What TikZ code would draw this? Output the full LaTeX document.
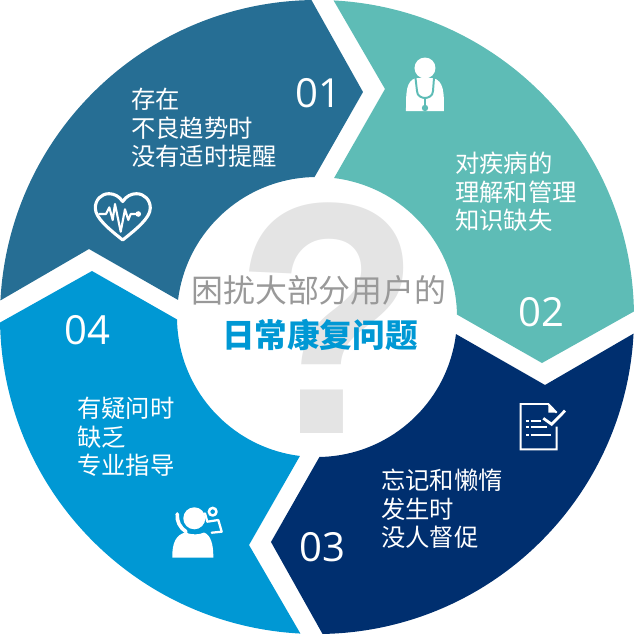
\documentclass[tikz,border=0pt]{standalone}
\usepackage{fontspec}
\usepackage{xcolor}
\setmainfont{Open Sans}
\newfontfamily\cjk{Noto Sans CJK SC}
\newfontfamily\markfont{Liberation Sans}
\definecolor{segone}{HTML}{266E94}
\definecolor{segtwo}{HTML}{5EBCB6}
\definecolor{segthree}{HTML}{002F6F}
\definecolor{segfour}{HTML}{0098D4}
\definecolor{qmark}{HTML}{E4E4E4}
\definecolor{leadgray}{HTML}{999999}
\tikzset{
  seglabel/.style={anchor=west, inner sep=0, align=left, text=white, font=\cjk\fontsize{17.3}{20.3}\selectfont},
  segnum/.style={inner sep=0, text=white, font=\fontsize{28.5}{32}\selectfont},
  icon/.style={white, line cap=round, line join=round}
}

\begin{document}
\begin{tikzpicture}[x=0.025cm, y=0.025cm]
  \useasboundingbox (-317,-317) rectangle (317,317);

  % Ring
  \foreach \rot/\segcolor in {0/segone, -90/segtwo, -180/segthree, -270/segfour}
    \fill[\segcolor, rotate=\rot] (91:317) arc[start angle=91, end angle=177, radius=317] -- (-228,68) -- (173:140) arc[start angle=173, end angle=91, radius=140] -- (46,225) -- cycle;

  % Centre
  \node[inner sep=0, text=qmark, font=\markfont\bfseries\fontsize{235}{235}\selectfont] (mark) at (11,-1.5) {\scalebox{0.92}[1]{?}};
  \node[inner sep=0, text=leadgray, font=\cjk\fontsize{22.7}{26}\selectfont] (lead) at (2,27) {困扰大部分用户的};
  \node[inner sep=0, text=segfour, font=\cjk\bfseries\fontsize{23.2}{26}\selectfont] (topic) at (3,-18) {日常康复问题};

  % Labels
  \node[seglabel] (label one) at (-186,189) {存在\\不良趋势时\\没有适时提醒};
  \node[seglabel] (label two) at (138,125) {对疾病的\\理解和管理\\知识缺失};
  \node[seglabel] (label three) at (64,-192) {忘记和懒惰\\发生时\\没人督促};
  \node[seglabel] (label four) at (-240,-120) {有疑问时\\缺乏\\专业指导};

  % Numbers
  \node[segnum] (num one) at (1,224) {01};
  \node[segnum] (num two) at (224,5) {02};
  \node[segnum] (num three) at (5,-230) {03};
  \node[segnum] (num four) at (-230,-13) {04};

  % Heart
  \draw[icon, line width=2.2pt] (-194.3,115.5) .. controls (-198,121) and (-203,123.3) .. (-208,123.3) .. controls (-216,123.3) and (-221.7,117) .. (-221.7,109) .. controls (-221.7,99) and (-208,88) .. (-194.3,77) .. controls (-180.6,88) and (-166.7,99) .. (-166.7,109) .. controls (-166.7,117) and (-172.6,123.3) .. (-180.6,123.3) .. controls (-185.6,123.3) and (-190.6,121) .. cycle;
  \draw[icon, line width=1.5pt] (-217.7,103) -- (-211,103) -- (-207.7,109.7) -- (-204.3,97) -- (-202,113) -- (-196.3,85.3) -- (-192,107.7) -- (-188.7,97) -- (-186.3,103) -- (-178.7,103);
  \fill[white] (-178.7,103) circle (2.8);

  % Doctor
  \fill[white] (108,249) circle (10.5);
  \fill[white] (89,206) .. controls (89,225) and (89,236) .. (99,239) -- (116,239) .. controls (127,236) and (127,225) .. (127,206) -- cycle;
  \draw[segtwo, line width=1.4pt, line cap=round] (98.5,239) -- (100,226) .. controls (100,221) and (105,219) .. (108,219) .. controls (111,219) and (116,221) .. (116,226) -- (117,239);
  \draw[segtwo, line width=1.4pt] (108,219) -- (108,212);
  \fill[segtwo] (108,209) circle (3.2);

  % Check list
  \draw[white, line width=1.4pt] (239.7,-109.7) -- (239.7,-132.3) -- (203.7,-132.3) -- (203.7,-87) -- (231.3,-87) -- (239.7,-95.7);
  \fill[white] (231.3,-87) -- (231.3,-95.7) -- (239.7,-95.7) -- cycle;
  \foreach \ypos/\xend in {-103.7/223.7, -110.3/229.7, -118/233.7} {
    \draw[white, line width=1.3pt] (209,\ypos) -- (212.3,\ypos);
    \draw[white, line width=1.3pt] (213.7,\ypos) -- (\xend,\ypos);
  }
  \draw[segthree, line width=4.5pt] (226.3,-101.3) -- (234.7,-107.3) -- (248,-93.7);
  \draw[white, line width=2pt] (226.3,-101.3) -- (234.7,-107.3) -- (248,-93.7);

  % Caller
  \fill[white] (-122.7,-201.3) circle (11);
  \fill[white] (-144.7,-240.7) .. controls (-145,-226) and (-141,-218) .. (-132,-215.5) .. controls (-125,-218) and (-118,-218) .. (-113,-215.5) .. controls (-106,-218) and (-103.5,-228) .. (-103.7,-240.7) -- cycle;
  \draw[icon, line width=2.6pt] (-139.7,-197) .. controls (-140.5,-204) and (-137,-211) .. (-131,-214.7);
  \draw[icon, line width=1.8pt] (-104.3,-194.7) circle (3.8);
  \draw[icon, line width=1.6pt] (-112,-196.3) -- (-109.7,-204.7) -- (-98.7,-203) -- (-95.3,-214.7) -- (-105.3,-215.7);
\end{tikzpicture}
\end{document}
